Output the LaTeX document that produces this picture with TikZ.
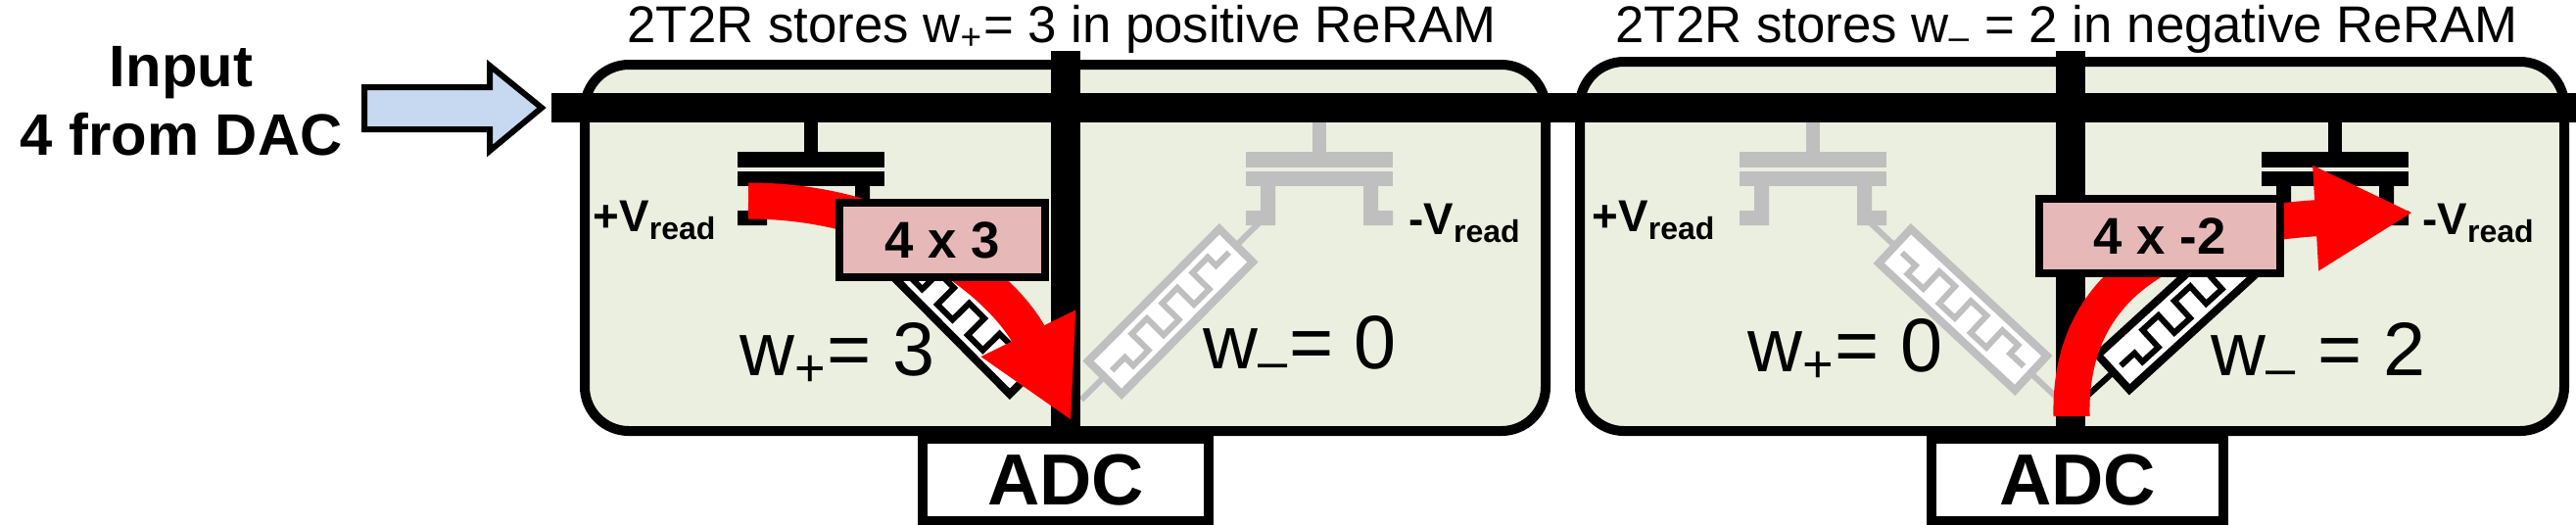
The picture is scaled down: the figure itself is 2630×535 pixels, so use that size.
\documentclass[tikz,border=0pt]{standalone}
\usepackage{fontspec}
\setmainfont{Liberation Sans}
\usetikzlibrary{arrows.meta}
\definecolor{cellfill}{HTML}{EBEFDF}
\definecolor{inputblue}{HTML}{C6D9F1}
\definecolor{prodpink}{HTML}{E6B9B8}
\definecolor{offgray}{HTML}{BFBFBF}
\tikzset{
	cell/.style={draw, line width=1mm, fill=cellfill, rounded corners=4.5mm},
	wire/.style={line width=3mm},
	adcbox/.style={draw, line width=1mm, fill=white, inner sep=0pt, font=\bfseries\fontsize{21}{21}\selectfont},
	prodbox/.style={draw, line width=.8mm, fill=prodpink, inner sep=0pt, font=\bfseries\fontsize{15}{15}\selectfont},
	flow/.style={red, line width=3.7mm, -{Triangle[length=1cm,width=1cm]}},
	vlabel/.style={font=\bfseries\fontsize{13}{13}\selectfont},
	wlabel/.style={font=\fontsize{22}{22}\selectfont},
	title/.style={anchor=base, font=\fontsize{15}{15}\selectfont},
}
% transistor: #1 gate x, #2 colour
\newcommand\ttr[2]{
	\fill[#2] (#1-7,125) rectangle (#1+7,155);
	\fill[#2] (#1-75,155) rectangle (#1+75,171);
	\fill[#2] (#1-75,175) rectangle (#1+75,190);
	\fill[#2] (#1-60,190) rectangle (#1-45,230) (#1-75,215) rectangle (#1-45,230);
	\fill[#2] (#1+45,190) rectangle (#1+60,230) (#1+45,215) rectangle (#1+75,230);
}
% ReRAM: #1 start, #2 end, #3 mid, #4 angle, #5 colour
\newcommand\rram[5]{
	\draw[#5, line width=.6mm] #1 -- #2;
	\begin{scope}[shift={#3}, rotate=#4]
		\draw[#5, line width=.8mm, fill=white] (-95,-24) rectangle (95,24);
		\draw[#5, line width=.6mm] (-85,0) -- (-66,0) -- (-66,12) -- (-44,12) -- (-44,-12) -- (-22,-12) -- (-22,12)
			-- (0,12) -- (0,-12) -- (22,-12) -- (22,12) -- (44,12) -- (44,-12) -- (66,-12) -- (66,0) -- (85,0);
	\end{scope}
}
\begin{document}
\begin{tikzpicture}[x=.01cm, y=-.01cm]
	\useasboundingbox (0,0) rectangle (2630,535);
	% cells
	\draw[cell] (597,66) rectangle (1578,440);
	\draw[cell] (1613,63) rectangle (2618,440);
	% devices
	\ttr{1347}{offgray}
	\rram{(1285,228)}{(1104,408)}{(1195,318)}{45.2}{offgray}
	\ttr{1851}{offgray}
	\rram{(1910,228)}{(2099,405)}{(2004,316)}{-43}{offgray}
	\ttr{828}{black}
	\rram{(890,228)}{(1072,408)}{(981,318)}{-45.2}{black}
	\ttr{2384}{black}
	\rram{(2325,228)}{(2130,405)}{(2228,316)}{42.4}{black}
	% ADCs and lines
	\node[adcbox, minimum width=2.91cm, minimum height=.83cm] (adc1) at (1088,490) {ADC};
	\node[adcbox, minimum width=2.98cm, minimum height=.83cm] (adc2) at (2121,490) {ADC};
	\coordinate (bl1) at (1088,52);
	\coordinate (bl2) at (2114,52);
	\draw[wire] (bl1) -- (bl1 |- adc1.north);
	\draw[wire] (bl2) -- (bl2 |- adc2.north);
	\coordinate (wl0) at (563,110);
	\coordinate (wl1) at (2630,110);
	\draw[wire] (wl0) -- (wl1);
	% input
	\node[align=center, font=\bfseries\fontsize{17}{20}\selectfont] (input) at (185,103) {Input\\4 from DAC};
	\draw[line width=.6mm, fill=inputblue] (372,89) -- (500,89) -- (500,67) -- (553,110) -- (500,154) -- (500,132) -- (372,132) -- cycle;
	% currents
	\draw[flow] (764,205) .. controls (930,205) and (1030,300) .. (1094,430);
	\draw[flow] (2115,425) .. controls (2112,300) and (2200,232) .. (2464,217);
	\node[prodbox, minimum width=2.1cm, minimum height=.75cm] (p1) at (962,245) {4 x 3};
	\node[prodbox, minimum width=2.45cm, minimum height=.75cm] (p2) at (2205,241) {4 x -2};
	% labels
	\node[vlabel] (vp1) at (669,225) {+V\textsubscript{read}};
	\node[vlabel] (vn1) at (1496,228) {-V\textsubscript{read}};
	\node[vlabel] (vp2) at (1689,225) {+V\textsubscript{read}};
	\node[vlabel] (vn2) at (2531,228) {-V\textsubscript{read}};
	\node[wlabel] (w1) at (855,362) {w\textsubscript{+}= 3};
	\node[wlabel] (w2) at (1327,355) {w\textsubscript{–}= 0};
	\node[wlabel] (w3) at (1884,358) {w\textsubscript{+}= 0};
	\node[wlabel] (w4) at (2367,362) {w\textsubscript{–} = 2};
	\node[title] (t1) at (1084,43) {2T2R stores w\textsubscript{+}= 3 in positive ReRAM};
	\node[title] (t2) at (2110,43) {2T2R stores w\textsubscript{–} = 2 in negative ReRAM};
\end{tikzpicture}
\end{document}
